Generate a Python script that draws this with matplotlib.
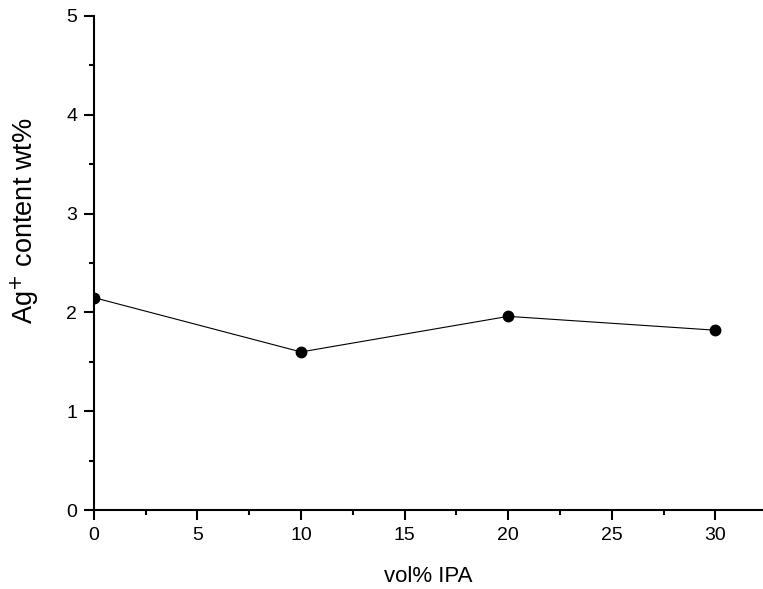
import matplotlib.pyplot as plt
from matplotlib.ticker import MultipleLocator

plt.rcParams['font.family'] = ['Liberation Sans', 'DejaVu Sans']

vol_ipa = [0, 10, 20, 30]
ag_content = [2.15, 1.60, 1.96, 1.82]

fig = plt.figure(figsize=(7.63, 5.89), dpi=100)
ax = fig.add_axes([0.123, 0.134, 0.877, 0.839])

ax.plot(vol_ipa, ag_content, color='black', lw=0.8, marker='o',
        markersize=7.5, markerfacecolor='black', markeredgecolor='black')

ax.set_xlim(0, 32.3)
ax.set_ylim(0, 5)
ax.xaxis.set_major_locator(MultipleLocator(5))
ax.xaxis.set_minor_locator(MultipleLocator(2.5))
ax.yaxis.set_major_locator(MultipleLocator(1))
ax.yaxis.set_minor_locator(MultipleLocator(0.5))

for side in ('top', 'right'):
    ax.spines[side].set_visible(False)
for side in ('left', 'bottom'):
    ax.spines[side].set_linewidth(1.5)

ax.tick_params(which='major', direction='out', length=7, width=1.5,
               labelsize=14, pad=5)
ax.tick_params(which='minor', direction='out', length=3.5, width=1.5)

ax.set_xlabel('vol% IPA', fontsize=16)
ax.set_ylabel('Ag$^{+}$ content wt%', fontsize=19.5)
ax.xaxis.set_label_coords(0.5, -0.113)
ax.yaxis.set_label_coords(-0.079, 0.585)

fig.savefig('out.png', dpi=100)
